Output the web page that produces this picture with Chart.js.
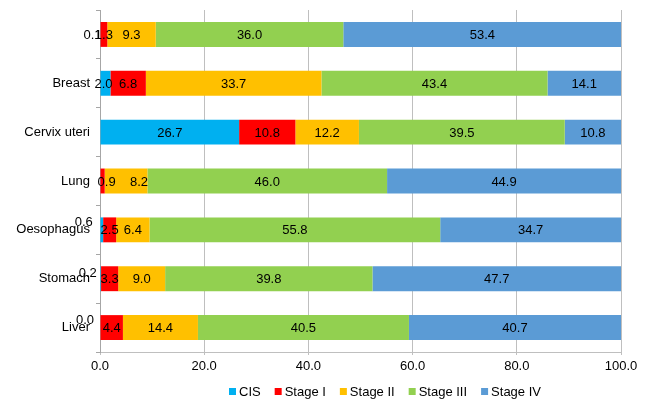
<!DOCTYPE html>
<html>
<head>
<meta charset="utf-8">
<script src="https://cdn.jsdelivr.net/npm/chart.js@4/dist/chart.umd.min.js"></script>
<style>
  html, body { margin: 0; padding: 0; background: #fff; }
  #wrap { width: 645px; height: 401px; }
</style>
</head>
<body>
<div id="wrap"><canvas id="chart" width="645" height="401"></canvas></div>
<script>
// categories, top to bottom
const sites = ["", "Breast", "Cervix uteri", "Lung", "Oesophagus", "Stomach", "Liver"];

// percentage share of each stage per site
const cis     = [0.1, 2.0, 26.7, null, 0.6, 0.2, 0.0];
const stage1  = [1.3, 6.8, 10.8, 0.9, 2.5, 3.3, 4.4];
const stage2  = [9.3, 33.7, 12.2, 8.2, 6.4, 9.0, 14.4];
const stage3  = [36.0, 43.4, 39.5, 46.0, 55.8, 39.8, 40.5];
const stage4  = [53.4, 14.1, 10.8, 44.9, 34.7, 47.7, 40.7];

const xTicks = [0, 20, 40, 60, 80, 100];

const font = "Liberation Sans, Arial, sans-serif";

// small nudges for labels that were moved by hand in the original
const labelNudge = {
    "0-0": [-8, 0], "0-1": [-2, 0], "0-4": [-18, -8], "0-5": [-13, -6], "0-6": [-15, -8],
    "1-3": [4, 0], "2-3": [13, 0]
};

const valueLabels = {
    id: "valueLabels",
    afterDatasetsDraw(chart) {
        const ctx = chart.ctx;
        ctx.save();
        ctx.font = "13px " + font;
        ctx.fillStyle = "#000";
        ctx.textAlign = "center";
        ctx.textBaseline = "middle";
        chart.data.datasets.forEach((ds, di) => {
            const meta = chart.getDatasetMeta(di);
            meta.data.forEach((bar, i) => {
                const v = ds.data[i];
                if (v === null || v === undefined) return;
                const n = labelNudge[di + "-" + i] || [0, 0];
                ctx.fillText(v.toFixed(1), (bar.x + bar.base) / 2 + n[0], bar.y + 1 + n[1]);
            });
        });
        ctx.restore();
    }
};

// legend drawn by hand, the original sits right of centre
const bottomLegend = {
    id: "bottomLegend",
    afterDraw(chart) {
        const ctx = chart.ctx;
        ctx.save();
        ctx.font = "13px " + font;
        ctx.textBaseline = "middle";
        ctx.textAlign = "left";
        let x = 229;
        const y = 391;
        chart.data.datasets.forEach(ds => {
            ctx.fillStyle = ds.backgroundColor;
            ctx.fillRect(x, y - 3, 7, 7);
            x += 10;
            ctx.fillStyle = "#000";
            ctx.fillText(ds.label, x, y + 1);
            x += ctx.measureText(ds.label).width + 14;
        });
        ctx.restore();
    }
};

new Chart(document.getElementById("chart"), {
    type: "bar",
    data: {
        labels: sites,
        datasets: [
            { label: "CIS", data: cis, backgroundColor: "#00B0F0" },
            { label: "Stage I", data: stage1, backgroundColor: "#FF0000" },
            { label: "Stage II", data: stage2, backgroundColor: "#FFC000" },
            { label: "Stage III", data: stage3, backgroundColor: "#92D050" },
            { label: "Stage IV", data: stage4, backgroundColor: "#5B9BD5" }
        ]
    },
    options: {
        indexAxis: "y",
        responsive: false,
        animation: false,
        layout: { padding: { top: 10, right: 24, left: 0, bottom: 27 } },
        datasets: { bar: { categoryPercentage: 0.51, barPercentage: 1, borderWidth: 0 } },
        scales: {
            x: {
                stacked: true,
                min: 0,
                max: 100,
                afterBuildTicks: s => { s.ticks = xTicks.map(v => ({ value: v })); },
                afterFit: s => { s.height = 22; },
                ticks: {
                    color: "#000",
                    font: { family: font, size: 13 },
                    padding: 4,
                    callback: v => Number(v).toFixed(1)
                },
                grid: { color: "#bfbfbf", tickLength: 3, drawTicks: true },
                border: { color: "#bfbfbf" }
            },
            y: {
                stacked: true,
                afterFit: s => { s.width = 100; },
                // small lineHeight so the label padding does not push the plot down
                ticks: { color: "#000", font: { family: font, size: 13, lineHeight: 0.6 }, padding: 6 },
                grid: { offset: true, drawOnChartArea: false, color: "#a6a6a6", tickLength: 4 },
                border: { color: "#a6a6a6" }
            }
        },
        plugins: {
            legend: { display: false },
            tooltip: { enabled: false }
        }
    },
    plugins: [valueLabels, bottomLegend]
});
</script>
</body>
</html>
